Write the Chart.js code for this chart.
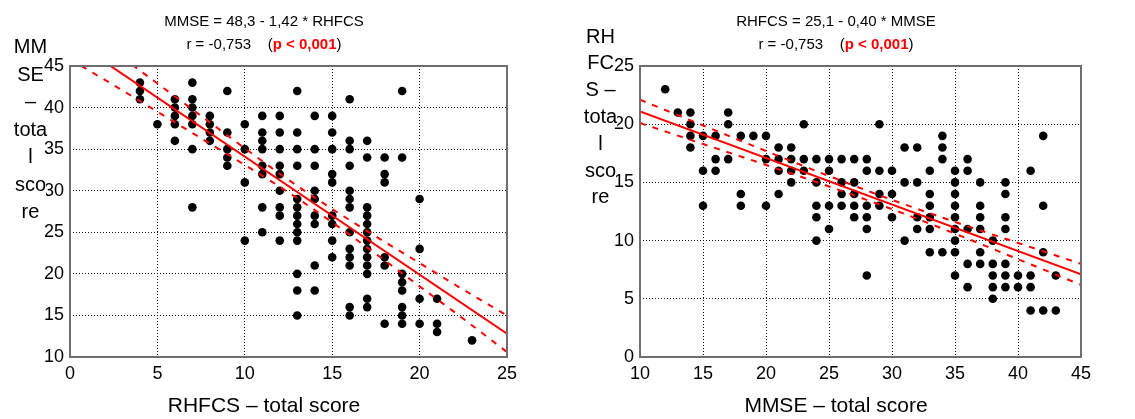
<!DOCTYPE html>
<html>
<head>
<meta charset="utf-8">
<script src="https://cdn.jsdelivr.net/npm/chart.js@4.4.1/dist/chart.umd.min.js"></script>
<style>
  html, body { margin: 0; padding: 0; background: #fff; }
  #wrap { position: relative; width: 1135px; height: 419px; }
  #leftChart { position: absolute; left: 0; top: 0; }
  #rightChart { position: absolute; left: 570px; top: 0; }
</style>
</head>
<body>
<div id="wrap">
  <canvas id="leftChart" width="570" height="419"></canvas>
  <canvas id="rightChart" width="565" height="419"></canvas>
</div>
<script>
// paired observations, one entry per patient (grouped by RHFCS score)
const rhfcs = [
  4, 4, 4,
  5,
  6, 6, 6, 6, 6,
  7, 7, 7, 7, 7, 7, 7,
  8, 8, 8, 8,
  9, 9, 9, 9, 9,
  10, 10, 10, 10,
  11, 11, 11, 11, 11, 11, 11, 11,
  12, 12, 12, 12, 12, 12, 12, 12, 12,
  13, 13, 13, 13, 13, 13, 13, 13, 13, 13, 13, 13, 13,
  14, 14, 14, 14, 14, 14, 14, 14, 14,
  15, 15, 15, 15, 15, 15, 15, 15, 15,
  16, 16, 16, 16, 16, 16, 16, 16, 16, 16, 16, 16, 16,
  17, 17, 17, 17, 17, 17, 17, 17, 17, 17, 17, 17, 17,
  18, 18, 18, 18, 18, 18,
  19, 19, 19, 19, 19, 19, 19, 19,
  20, 20, 20, 20,
  21, 21, 21,
  23
];
const mmse = [
  43, 42, 41,
  38,
  41, 40, 39, 38, 36,
  43, 41, 40, 39, 38, 35, 28,
  39, 38, 37, 36,
  42, 37, 35, 34, 33,
  38, 35, 31, 24,
  39, 37, 36, 35, 33, 32, 28, 25,
  39, 37, 35, 33, 32, 30, 28, 27, 24,
  42, 37, 35, 33, 29, 28, 27, 26, 25, 24, 20, 18, 15,
  39, 35, 33, 30, 29, 27, 26, 21, 18,
  39, 37, 35, 32, 31, 27, 26, 24, 22,
  41, 36, 35, 33, 30, 29, 28, 25, 23, 22, 21, 16, 15,
  36, 34, 28, 27, 26, 25, 24, 23, 22, 21, 20, 17, 16,
  34, 32, 31, 22, 21, 14,
  42, 34, 20, 19, 18, 16, 15, 14,
  29, 23, 17, 14,
  17, 14, 13,
  12
];

// left panel: MMSE on RHFCS, fit line + 95% band
const fitLeftX = [0, 25];
const fitLeftY = [48.3, 12.8];
const bandLeftX = [0, 2.5, 5, 7.5, 10, 12.5, 15, 17.5, 20, 22.5, 25];
const bandLeftUpper = [50.8, 46.8, 42.9, 39.0, 35.1, 31.3, 27.8, 24.5, 21.3, 18.1, 15.0];
const bandLeftLower = [45.8, 42.7, 39.5, 36.3, 33.1, 29.8, 26.2, 22.4, 18.5, 14.6, 10.6];

// right panel: RHFCS on MMSE
const fitRightX = [10, 45];
const fitRightY = [21.1, 7.1];
const bandRightX = [10, 15, 20, 25, 30, 35, 40, 45];
const bandRightUpper = [22.1, 19.9, 17.7, 15.55, 13.5, 11.6, 9.8, 8.0];
const bandRightLower = [20.1, 18.3, 16.5, 14.65, 12.7, 10.6, 8.4, 6.2];

// axis ticks
const leftXTicks = [0, 5, 10, 15, 20, 25];
const leftYTicks = [10, 15, 20, 25, 30, 35, 40, 45];
const rightXTicks = [10, 15, 20, 25, 30, 35, 40, 45];
const rightYTicks = [0, 5, 10, 15, 20, 25];

const FONT = '"Liberation Sans", Arial, Helvetica, sans-serif';

const pairs = (xs, ys) => xs.map((x, i) => ({ x: x, y: ys[i] }));

const panelText = {
  id: 'panelText',
  afterDraw(chart, args, opts) {
    const ctx = chart.ctx;
    const a = chart.chartArea;
    const cx = (a.left + a.right) / 2 - 24.5;
    ctx.save();

    // frame round the plot
    ctx.strokeStyle = '#6e6e6e';
    ctx.lineWidth = 2;
    ctx.strokeRect(a.left, a.top, a.right - a.left, a.bottom - a.top);

    ctx.textBaseline = 'middle';
    ctx.textAlign = 'center';
    ctx.fillStyle = '#000';
    ctx.font = '15px ' + FONT;
    ctx.fillText(opts.equation, cx, 22);

    // r = ... (p < 0,001) with the p part in bold red
    const p1 = 'r = -0,753    (', p2 = 'p < 0,001', p3 = ')';
    ctx.font = '15px ' + FONT;
    const w1 = ctx.measureText(p1).width, w3 = ctx.measureText(p3).width;
    ctx.font = 'bold 15px ' + FONT;
    const w2 = ctx.measureText(p2).width;
    let x = cx - (w1 + w2 + w3) / 2;
    ctx.textAlign = 'left';
    ctx.font = '15px ' + FONT;
    ctx.fillText(p1, x, 45);
    x += w1;
    ctx.font = 'bold 15px ' + FONT;
    ctx.fillStyle = '#ff0000';
    ctx.fillText(p2, x, 45);
    x += w2;
    ctx.font = '15px ' + FONT;
    ctx.fillStyle = '#000';
    ctx.fillText(p3, x, 45);

    // wrapped y title
    ctx.textAlign = 'center';
    ctx.font = '20px ' + FONT;
    opts.yTitle.forEach((line, i) => {
      const y = opts.yTop + i * opts.yStep;
      const w = ctx.measureText(line).width;
      ctx.fillStyle = '#fff';
      ctx.fillRect(30.5 - w / 2, y - 10, w, 20);
      ctx.fillStyle = '#000';
      ctx.fillText(line, 30.5, y);
    });

    ctx.font = '21px ' + FONT;
    ctx.fillText(opts.xTitle, cx, 406);
    ctx.restore();
  }
};

function makePanel(id, cfg) {
  const axisFont = { family: FONT, size: 18 };
  const lineSet = (xs, ys, dashed) => ({
    data: pairs(xs, ys),
    showLine: true,
    borderColor: '#ff0000',
    borderWidth: 2,
    borderDash: dashed ? [6, 7] : [],
    pointRadius: 0,
    cubicInterpolationMode: 'monotone',
    order: 0
  });
  return new Chart(document.getElementById(id), {
    type: 'scatter',
    data: {
      datasets: [
        lineSet(cfg.fitX, cfg.fitY, false),
        lineSet(cfg.bandX, cfg.bandUpper, true),
        lineSet(cfg.bandX, cfg.bandLower, true),
        {
          data: pairs(cfg.xs, cfg.ys),
          backgroundColor: '#000',
          borderColor: '#000',
          borderWidth: 0,
          pointRadius: 4.3,
          order: 1
        }
      ]
    },
    options: {
      responsive: false,
      animation: false,
      layout: { padding: { top: 66, right: cfg.padRight, left: 0, bottom: 0 } },
      plugins: {
        legend: { display: false },
        tooltip: { enabled: false },
        panelText: cfg.text
      },
      scales: {
        x: {
          type: 'linear',
          min: cfg.xTicks[0],
          max: cfg.xTicks[cfg.xTicks.length - 1],
          afterBuildTicks: s => { s.ticks = cfg.xTicks.map(v => ({ value: v })); },
          afterFit: s => { s.height = 62; },
          ticks: { color: '#000', font: axisFont, padding: 6, maxRotation: 0 },
          grid: { color: '#111', lineWidth: 1, drawTicks: false },
          border: { display: false, dash: [1, 2] }
        },
        y: {
          type: 'linear',
          min: cfg.yTicks[0],
          max: cfg.yTicks[cfg.yTicks.length - 1],
          afterBuildTicks: s => { s.ticks = cfg.yTicks.map(v => ({ value: v })); },
          afterFit: s => { s.width = 70; },
          ticks: { color: '#000', font: axisFont, padding: 6 },
          grid: { color: '#111', lineWidth: 1, drawTicks: false },
          border: { display: false, dash: [1, 2] }
        }
      }
    },
    plugins: [panelText]
  });
}

makePanel('leftChart', {
  xs: rhfcs, ys: mmse,
  fitX: fitLeftX, fitY: fitLeftY,
  bandX: bandLeftX, bandUpper: bandLeftUpper, bandLower: bandLeftLower,
  xTicks: leftXTicks, yTicks: leftYTicks,
  padRight: 63,
  text: {
    equation: 'MMSE = 48,3 - 1,42 * RHFCS',
    xTitle: 'RHFCS \u2013 total score',
    yTitle: ['MM', 'SE', '\u2013', 'tota', 'l', 'sco', 're'],
    yTop: 47.5, yStep: 27.5
  }
});

makePanel('rightChart', {
  xs: mmse, ys: rhfcs,
  fitX: fitRightX, fitY: fitRightY,
  bandX: bandRightX, bandUpper: bandRightUpper, bandLower: bandRightLower,
  xTicks: rightXTicks, yTicks: rightYTicks,
  padRight: 54,
  text: {
    equation: 'RHFCS = 25,1 - 0,40 * MMSE',
    xTitle: 'MMSE \u2013 total score',
    yTitle: ['RH', 'FC', 'S \u2013', 'tota', 'l', 'sco', 're'],
    yTop: 37, yStep: 26.8
  }
});
</script>
</body>
</html>
